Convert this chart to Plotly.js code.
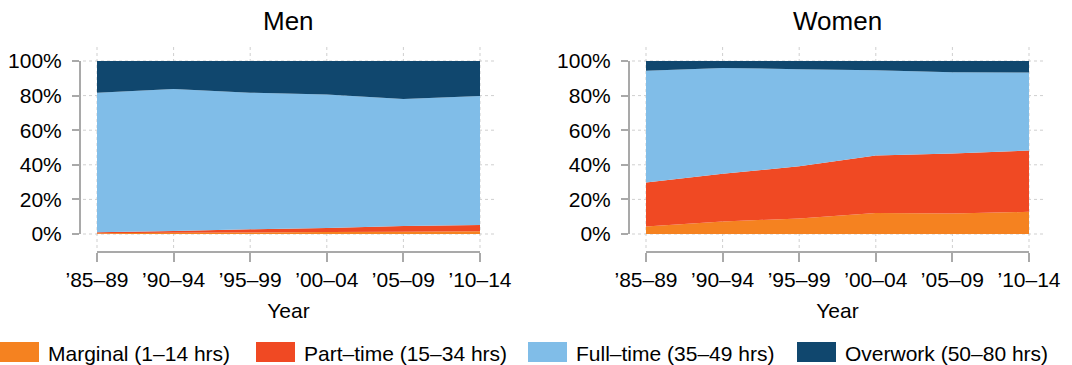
<!DOCTYPE html>
<html>
<head>
<meta charset="utf-8">
<script src="https://cdn.plot.ly/plotly-3.0.1.min.js"></script>
<style>
  html, body { margin: 0; padding: 0; background: #fff; }
  #chart { width: 1072px; height: 365px; }
</style>
</head>
<body>
<div id="chart"></div>
<script>
// ---- Data (shares in %) ----
const periods = ['\u201985\u201389', '\u201990\u201394', '\u201995\u201399', '\u201900\u201304', '\u201905\u201309', '\u201910\u201314'];

const menMarginal = [0.5, 0.7, 0.9, 1.1, 1.3, 1.6];
const menPartTime = [0.5, 1.0, 1.8, 2.4, 3.3, 3.6];
const menFullTime = [80.7, 82.1, 79.0, 77.2, 73.4, 74.6];
const menOverwork = [18.3, 16.2, 18.3, 19.3, 22.0, 20.2];

const womenMarginal = [4.3, 7.2, 9.0, 12.2, 11.8, 12.8];
const womenPartTime = [25.5, 27.6, 30.2, 33.2, 34.7, 35.5];
const womenFullTime = [64.5, 61.2, 56.1, 49.3, 47.0, 45.1];
const womenOverwork = [5.7, 4.0, 4.7, 5.3, 6.5, 6.6];

const seriesNames = ['Marginal (1\u201314 hrs)', 'Part\u2013time (15\u201334 hrs)', 'Full\u2013time (35\u201349 hrs)', 'Overwork (50\u201380 hrs)'];
const panelTitles = ['Men', 'Women'];
const yTicks = [0, 20, 40, 60, 80, 100];
const yTickLabels = ['0%', '20%', '40%', '60%', '80%', '100%'];

// ---- Styles ----
const colors = ['#F58220', '#F04923', '#80BDE8', '#10476E'];
const FONT = 'Liberation Sans, Arial, Helvetica, sans-serif';
const axisGray = '#a9a9a9';
const gridGray = '#cfcfcf';
const W = 1072, H = 365;

function area(y, i, xa, ya, group) {
  return {
    x: periods, y: y, type: 'scatter', mode: 'none',
    stackgroup: group, fill: i === 0 ? 'tozeroy' : 'tonexty',
    fillcolor: colors[i], line: { width: 0 },
    name: seriesNames[i], xaxis: xa, yaxis: ya,
    hoverinfo: 'skip', showlegend: false
  };
}

const menSeries = [menMarginal, menPartTime, menFullTime, menOverwork];
const womenSeries = [womenMarginal, womenPartTime, womenFullTime, womenOverwork];
const traces = [];
menSeries.forEach((s, i) => traces.push(area(s, i, 'x', 'y', 'men')));
womenSeries.forEach((s, i) => traces.push(area(s, i, 'x2', 'y2', 'women')));

// Plot geometry (pixels)
const panels = [
  { x0: 97, x1: 480, yAxisX: 80 },
  { x0: 646, x1: 1029, yAxisX: 629 }
];
const plotTop = 61, plotBottom = 234, xAxisY = 252;

function xAxis(p) {
  return {
    domain: [p.x0 / W, p.x1 / W], anchor: 'free', position: 1 - xAxisY / H,
    type: 'category', range: [0, periods.length - 1],
    showline: true, linecolor: axisGray, linewidth: 2,
    ticks: 'outside', ticklen: 9, tickwidth: 2, tickcolor: axisGray,
    showgrid: false, zeroline: false, automargin: false,
    tickfont: { family: FONT, size: 21, color: '#000' },
    title: { text: 'Year', font: { family: FONT, size: 21, color: '#000' }, standoff: 12 },
    fixedrange: true
  };
}
function yAxis(p) {
  return {
    domain: [1 - plotBottom / H, 1 - plotTop / H], anchor: 'free', position: p.yAxisX / W,
    range: [0, 100], tickmode: 'array', tickvals: yTicks, ticktext: yTickLabels,
    showline: true, linecolor: axisGray, linewidth: 2,
    ticks: 'outside', ticklen: 7, tickwidth: 2, tickcolor: axisGray,
    ticklabelstandoff: 6,
    showgrid: false, zeroline: false, automargin: false,
    tickfont: { family: FONT, size: 21, color: '#000' },
    fixedrange: true
  };
}

const shapes = [];
const annotations = [];
const ext = 14;
['', '2'].forEach((s, k) => {
  const p = panels[k];
  const pw = p.x1 - p.x0, ph = plotBottom - plotTop;
  yTicks.forEach(v => {
    shapes.push({ type: 'line', layer: 'below', xref: 'x' + s + ' domain', yref: 'y' + s + ' domain',
      x0: -ext / pw, x1: 1 + ext / pw, y0: v / 100, y1: v / 100,
      line: { color: gridGray, width: 1, dash: 'dot' } });
  });
  periods.forEach((c, i) => {
    const fx = i / (periods.length - 1);
    shapes.push({ type: 'line', layer: 'below', xref: 'x' + s + ' domain', yref: 'y' + s + ' domain',
      x0: fx, x1: fx, y0: -ext / ph, y1: 1 + ext / ph,
      line: { color: gridGray, width: 1, dash: 'dot' } });
  });
  annotations.push({ text: panelTitles[k], xref: 'paper', yref: 'paper',
    x: (p.x0 + p.x1) / 2 / W, y: 1 - 21 / H, xanchor: 'center', yanchor: 'middle',
    showarrow: false, font: { family: FONT, size: 26, color: '#000' } });
});

// custom legend (large swatches)
const legendX = [0, 256, 528, 797];
legendX.forEach((lx, i) => {
  shapes.push({ type: 'rect', xref: 'paper', yref: 'paper',
    x0: lx / W, x1: (lx + 39) / W, y0: 1 - 362 / H, y1: 1 - 342 / H,
    fillcolor: colors[i], line: { width: 0 } });
  annotations.push({ text: seriesNames[i], xref: 'paper', yref: 'paper',
    x: (lx + 46) / W, y: 1 - 353 / H, xanchor: 'left', yanchor: 'middle',
    showarrow: false, font: { family: FONT, size: 21, color: '#000' } });
});

const layout = {
  width: W, height: H,
  margin: { l: 0, r: 0, t: 0, b: 0 },
  paper_bgcolor: '#fff', plot_bgcolor: 'rgba(0,0,0,0)',
  showlegend: false,
  font: { family: FONT, size: 21, color: '#000' },
  xaxis: xAxis(panels[0]), yaxis: yAxis(panels[0]),
  xaxis2: xAxis(panels[1]), yaxis2: yAxis(panels[1]),
  shapes: shapes, annotations: annotations
};

Plotly.newPlot('chart', traces, layout, { displayModeBar: false, staticPlot: true });
</script>
</body>
</html>
